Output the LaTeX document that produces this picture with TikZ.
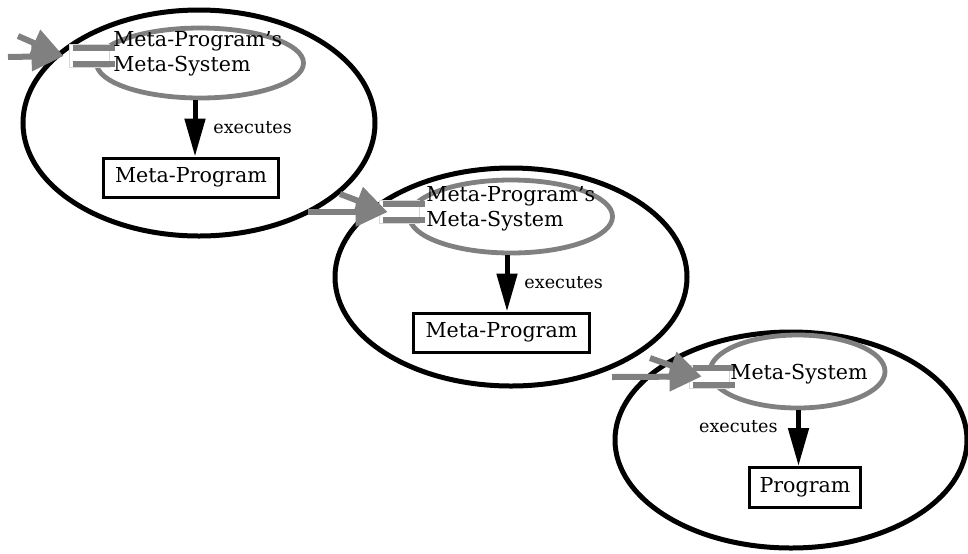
\documentclass[tikz,border=0pt]{standalone}
\usepackage{fontspec}
\setmainfont{DejaVu Serif}
\usetikzlibrary{shapes.geometric,arrows.meta}
\definecolor{portgray}{RGB}{128,128,128}
\definecolor{rimgray}{RGB}{215,215,215}
\newcommand{\apos}{\char39\relax}
\tikzset{
  systemring/.style={draw=black, line width=2.5pt, ellipse, inner sep=0pt},
  metaring/.style={draw=portgray, line width=2.4pt, ellipse, inner sep=0pt},
  portbox/.style={draw=rimgray, line width=0.4pt, fill=white, rectangle,
    minimum width=20pt, minimum height=11.5pt, inner sep=0pt},
  portbar/.style={draw=portgray, line width=3pt},
  feedarrow/.style={draw=portgray, line width=3pt,
    -{Triangle[length=16pt,width=14pt]}},
  execarrow/.style={draw=black, line width=2.5pt,
    -{Triangle[length=19pt,width=10pt]}},
  progbox/.style={draw=black, line width=1.5pt, rectangle, inner xsep=6pt,
    minimum height=19.5pt, font=\fontsize{10.3pt}{12.4pt}\selectfont},
  metatext/.style={anchor=west, inner sep=0pt, align=left,
    font=\fontsize{10.3pt}{12.4pt}\selectfont},
  execlabel/.style={inner sep=0pt, font=\fontsize{8.8pt}{10pt}\selectfont}
}
\begin{document}
\begin{tikzpicture}[x=0.5pt,y=-0.5pt]
\useasboundingbox (0,0) rectangle (968,553);

% outer system rings
\node[systemring, minimum width=176pt, minimum height=113pt] (s1) at (199,123) {};
\node[systemring, minimum width=176pt, minimum height=109pt] (s2) at (511,277) {};
\node[systemring, minimum width=176pt, minimum height=108pt] (s3) at (791,440) {};

% meta-system rings
\node[metaring, minimum width=103.5pt, minimum height=35pt] (g1) at (200,63) {};
\node[metaring, minimum width=101.5pt, minimum height=36.5pt] (g2) at (511,216.5) {};
\node[metaring, minimum width=87.5pt, minimum height=36.5pt] (g3) at (797.5,371.5) {};

% input ports on the meta-system rings
\node[portbox] (p1) at (89,56) {};
\node[portbox] (p2) at (399,212) {};
\node[portbox] (p3) at (709,376.5) {};
\foreach \p in {p1,p2,p3}{
  \draw[portbar] ([shift={(4,3.5)}]\p.north west) -- ([shift={(6,3.5)}]\p.north east);
  \draw[portbar] ([shift={(4,-3.5)}]\p.south west) -- ([shift={(6,-3.5)}]\p.south east);
}

% incoming feeds
\coordinate (a1h) at (8,57);
\coordinate (a1d) at (18,36);
\coordinate (a2h) at (308,212);
\coordinate (a2d) at (340,194);
\coordinate (a3h) at (612,377);
\coordinate (a3d) at (650,358);
\draw[feedarrow] (a1h) -- ([xshift=-2.5pt]p1.west);
\draw[feedarrow] (a1d) -- ([xshift=-2.5pt]p1.west);
\draw[feedarrow] (a2h) -- ([xshift=4.5pt]p2.west);
\draw[feedarrow] (a2d) -- ([xshift=4.5pt]p2.west);
\draw[feedarrow] (a3h) -- ([xshift=6.5pt]p3.west);
\draw[feedarrow] (a3d) -- ([xshift=6.5pt]p3.west);

% meta-system labels
\node[metatext] (t1) at (113,54) {Meta-Program\apos s\\Meta-System};
\node[metatext] (t2) at (426,209) {Meta-Program\apos s\\Meta-System};
\node[metatext] (t3) at (730,374) {Meta-System};

% executed programs
\node[progbox] (b1) at (191,177.5) {Meta-Program};
\node[progbox] (b2) at (501.5,332.5) {Meta-Program};
\node[progbox, inner xsep=5pt, minimum height=20pt] (b3) at (805,487.5) {Program};

% execution arrows
\draw[execarrow] ([xshift=-2.5pt]g1.south) -- ([xshift=-2.5pt]g1.south |- b1.north);
\draw[execarrow] ([xshift=-2pt]g2.south) -- ([xshift=-2pt]g2.south |- b2.north);
\draw[execarrow] ([xshift=0.5pt]g3.south) -- ([xshift=0.5pt]g3.south |- b3.north);

\node[execlabel, anchor=west] (e1) at (213,128) {executes};
\node[execlabel, anchor=west] (e2) at (524,283) {executes};
\node[execlabel, anchor=east] (e3) at (778,427) {executes};
\end{tikzpicture}
\end{document}
